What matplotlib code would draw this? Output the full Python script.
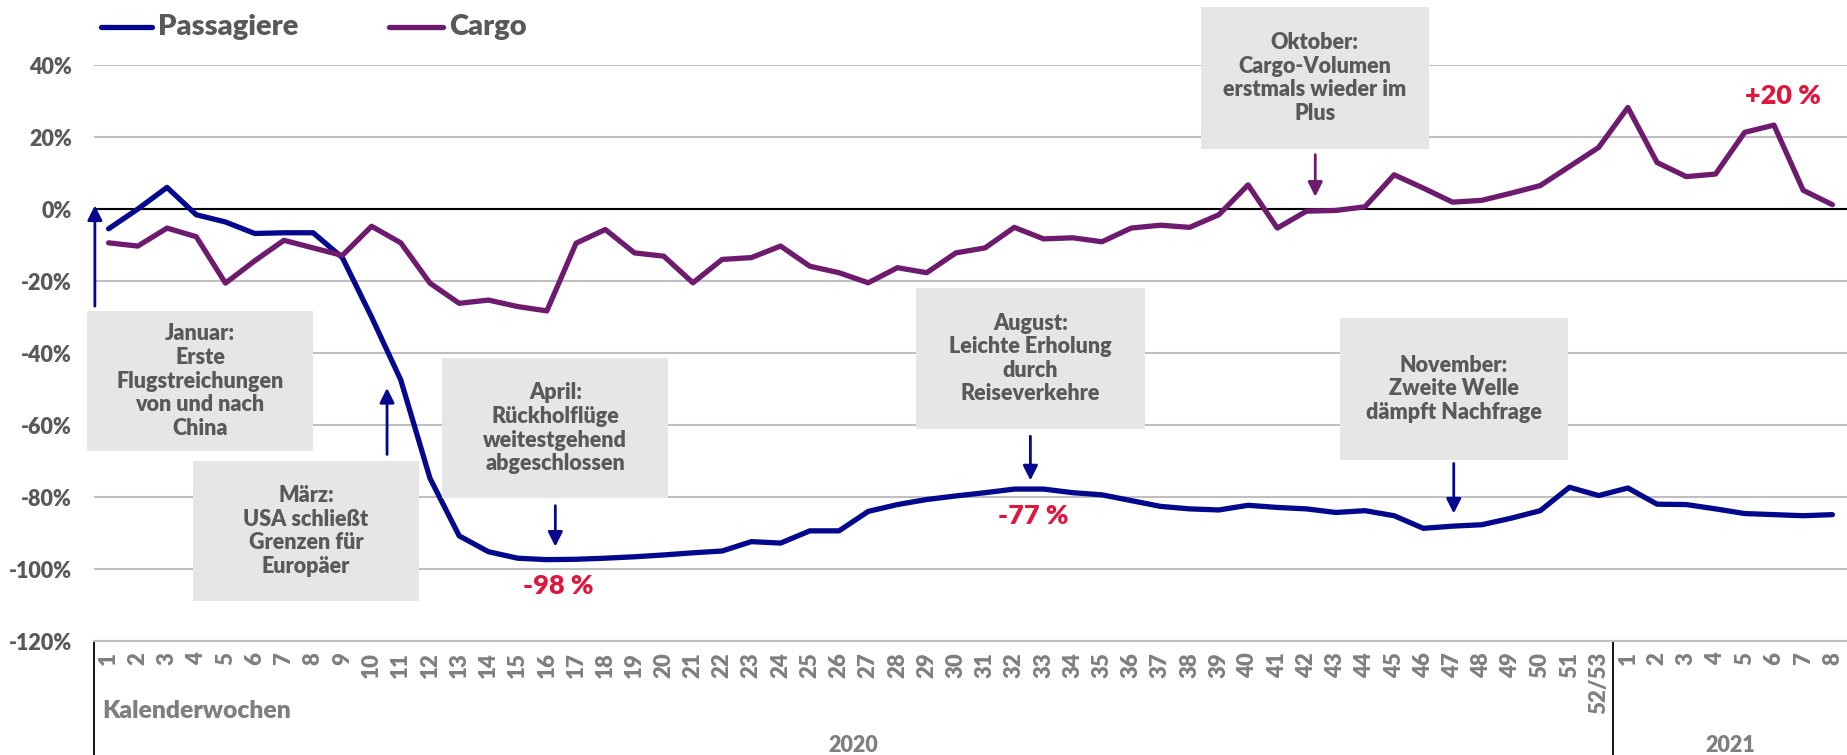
import matplotlib
matplotlib.use("Agg")
import matplotlib.pyplot as plt
import matplotlib.transforms as mtransforms
from matplotlib.patches import Rectangle
from matplotlib.lines import Line2D
import numpy as np

plt.rcParams['font.family'] = ['Lato', 'DejaVu Sans']
W = 'heavy'

# Kalenderwochen 2020 (1..52/53) und 2021 (1..8)
weeks_2020 = [str(w) for w in range(1, 52)] + ['52/53']
weeks_2021 = [str(w) for w in range(1, 9)]
week_labels = weeks_2020 + weeks_2021

# Veraenderung ggue. Vorjahr in %
passagiere = [-5.5, 0.0, 6.0, -1.6, -3.6, -6.8, -6.6, -6.6, -13.5, -30.0,
              -47.5, -74.8, -90.8, -95.2, -97.0, -97.4, -97.3, -97.0, -96.6, -96.1,
              -95.5, -95.0, -92.4, -92.8, -89.4, -89.4, -84.0, -82.1, -80.7, -79.7,
              -78.8, -77.8, -77.8, -78.8, -79.4, -81.0, -82.6, -83.3, -83.6, -82.3,
              -82.9, -83.3, -84.3, -83.8, -85.2, -88.7, -88.1, -87.7, -85.9, -83.8,
              -77.3, -79.6,
              -77.5, -82.0, -82.1, -83.3, -84.6, -84.9, -85.2, -84.9]
cargo = [-9.4, -10.3, -5.3, -7.7, -20.6, -14.4, -8.7, -10.8, -12.9, -4.8,
         -9.4, -20.6, -26.2, -25.3, -27.1, -28.3, -9.5, -5.7, -12.2, -13.1,
         -20.5, -14.0, -13.5, -10.3, -15.9, -17.7, -20.5, -16.3, -17.7, -12.2,
         -10.8, -5.1, -8.3, -8.0, -9.1, -5.3, -4.5, -5.1, -1.6, 6.7,
         -5.3, -0.6, -0.4, 0.6, 9.5, 5.8, 1.9, 2.4, 4.4, 6.5,
         11.8, 17.1,
         28.2, 12.9, 9.0, 9.7, 21.3, 23.3, 5.2, 1.2]

yticks = list(range(-120, 41, 20))

BLUE = '#03088C'
PURPLE = '#6D1A6F'
RED = '#E0163C'
DARK = '#595959'
MID = '#7F7F7F'
BOXC = '#E6E6E6'

fig = plt.figure(figsize=(18.47, 7.55), dpi=100)
ax = fig.add_axes([94 / 1847, 1 - 641 / 755, 1753 / 1847, 576 / 755])

x = np.arange(len(week_labels))
ax.plot(x, passagiere, color=BLUE, lw=3.8, solid_capstyle='round', solid_joinstyle='round', zorder=4)
ax.plot(x, cargo, color=PURPLE, lw=3.8, solid_capstyle='round', solid_joinstyle='round', zorder=4)

ax.set_xlim(-0.5, len(week_labels) - 0.5)
ax.set_ylim(-120, 40)
ax.set_yticks(yticks)
ax.set_yticklabels([f'{v}%' for v in yticks], color=DARK, fontsize=15.5, fontweight=W)
ax.set_xticks(x)
ax.set_xticklabels(week_labels, rotation=90, color=MID, fontsize=16, fontweight=W)
ax.tick_params(axis='y', length=0, pad=16)
ax.tick_params(axis='x', length=0, pad=8)
ax.yaxis.grid(True, color='#BFBFBF', lw=1.5)
ax.set_axisbelow(True)
ax.axhline(0, color='black', lw=1.5, zorder=2)
for s in ['top', 'right', 'left']:
    ax.spines[s].set_visible(False)
ax.spines['bottom'].set_color('#BFBFBF')
ax.spines['bottom'].set_linewidth(1.5)

# Gruppen-Achse (Jahre)
tr = mtransforms.blended_transform_factory(ax.transData, ax.transAxes)
for xv in [-0.5, len(weeks_2020) - 0.5]:
    ax.plot([xv, xv], [0, -0.2], color='black', lw=1.3, transform=tr, clip_on=False)
ax.text(-0.23, -0.1215, 'Kalenderwochen', transform=tr, ha='left', va='center',
        color=MID, fontsize=17.8, fontweight=W)
ax.text((len(weeks_2020) - 1) / 2, -0.182, '2020', transform=tr, ha='center', va='center',
        color=MID, fontsize=15.5, fontweight=W)
ax.text(len(weeks_2020) + (len(weeks_2021) - 1) / 2, -0.182, '2021', transform=tr, ha='center',
        va='center', color=MID, fontsize=15.5, fontweight=W)

# Legende
for x0, x1, col, lab in [(101, 152, BLUE, 'Passagiere'), (389, 443, PURPLE, 'Cargo')]:
    fig.add_artist(Line2D([x0 / 1847, x1 / 1847], [1 - 27 / 755] * 2, color=col, lw=3.8,
                          solid_capstyle='round'))
    fig.text((x1 + 6) / 1847, 1 - 27 / 755, lab, ha='left', va='center', color=DARK,
             fontsize=21, fontweight=W)

# Kommentar-Boxen: (x0, x1, y0, y1, text, pfeil_x, pfeil_von, pfeil_bis, farbe)
notes = [
    (-0.74, 7.0, -67.3, -28.3, 'Januar:\nErste\nFlugstreichungen\nvon und nach\nChina',
     -0.47, -27, 1, BLUE),
    (2.89, 10.63, -108.9, -69.9, 'März:\nUSA schließt\nGrenzen für\nEuropäer',
     9.53, -68.2, -49.7, BLUE),
    (11.42, 19.16, -80.4, -41.4, 'April:\nRückholflüge\nweitestgehend\nabgeschlossen',
     15.29, -82.4, -93.8, BLUE),
    (27.65, 35.46, -61.2, -21.9, 'August:\nLeichte Erholung\ndurch\nReiseverkehre',
     31.55, -63.1, -75.4, BLUE),
    (37.38, 45.18, 16.8, 56.1, 'Oktober:\nCargo-Volumen\nerstmals wieder im\nPlus',
     41.3, 15.1, 3.4, PURPLE),
    (42.14, 49.95, -69.6, -30.3, 'November:\nZweite Welle\ndämpft Nachfrage',
     46.04, -70.7, -84.6, BLUE),
]
for x0, x1, y0, y1, txt, ax_x, a_from, a_to, col in notes:
    ax.add_patch(Rectangle((x0, y0), x1 - x0, y1 - y0, facecolor=BOXC, edgecolor='none',
                           zorder=5, clip_on=False))
    ax.text((x0 + x1) / 2, (y0 + y1) / 2, txt, ha='center', va='center', color=DARK,
            fontsize=15.5, fontweight=W, linespacing=1.15, zorder=6)
    ax.annotate('', xy=(ax_x, a_to), xytext=(ax_x, a_from),
                arrowprops=dict(arrowstyle='-|>', color=col, lw=2, mutation_scale=22,
                                shrinkA=0, shrinkB=0), zorder=6, annotation_clip=False)

# Markante Werte
for xv, yv, lab in [(15.4, -104.7, '-98 %'), (31.66, -85.4, '-77 %'), (57.3, 31.3, '+20 %')]:
    ax.text(xv, yv, lab, ha='center', va='center', color=RED, fontsize=19.5, fontweight=W,
            zorder=6)

fig.savefig('out.png', dpi=100)
